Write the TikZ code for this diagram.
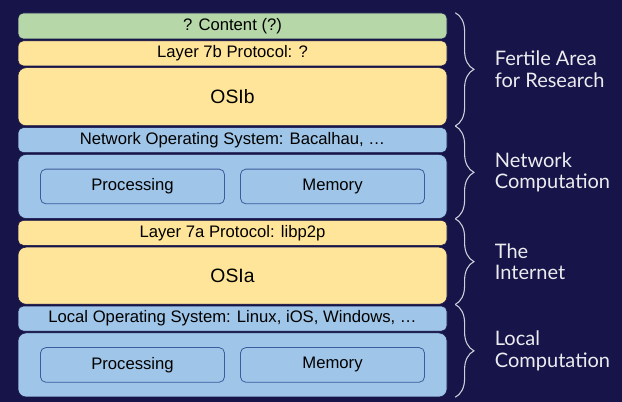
\documentclass[tikz,border=0pt]{standalone}
\usepackage{fontspec}
\setmainfont{Liberation Sans}
\newfontfamily\labelfont{Lato}
\usetikzlibrary{positioning}
\usetikzlibrary{decorations.pathreplacing}
\definecolor{slidebg}{RGB}{22,20,72}
\definecolor{layergreen}{HTML}{B6D7A8}
\definecolor{layeryellow}{HTML}{FFE599}
\definecolor{layerblue}{HTML}{9FC5E8}
\definecolor{unitedge}{HTML}{3D5C9E}
\definecolor{bracegray}{HTML}{D0D0DC}
\tikzset{
        layer/.style={align=center, inner sep=0pt, draw=slidebg, line width=0.4pt, rounded corners=4pt, minimum width=321.75pt, font=\fontsize{12.5}{14}\selectfont},
        % Thin layers
        layer_green/.style={layer, fill=layergreen, minimum height=19.5pt},
        layer_yellow/.style={layer, fill=layeryellow, minimum height=18.75pt},
        layer_blue/.style={layer, fill=layerblue, minimum height=18.75pt},
        % Thick layers
        layer_osi/.style={layer, fill=layeryellow, minimum height=43.5pt, rounded corners=6pt, font=\fontsize{14.5}{17}\selectfont},
        layer_comp/.style={layer, fill=layerblue, minimum height=48pt, rounded corners=6pt},
        % Units inside the computation layers
        unit/.style={draw=unitedge, fill=layerblue, line width=0.6pt, rounded corners=4pt, minimum width=138pt, minimum height=26pt, inner sep=0pt, font=\fontsize{12.5}{14}\selectfont},
        % Braces on the right
        span_brace/.style={draw=bracegray, line width=0.8pt, decorate, decoration={brace, amplitude=14pt}},
        span_label/.style={anchor=west, align=left, text=white!92!slidebg, font=\labelfont\fontsize{15}{16}\selectfont}
}

\begin{document}
\begin{tikzpicture}[
            x=0.75pt, y=-0.75pt,
            node distance=1pt
        ]
            \fill[slidebg] (0,0) rectangle (622,402);
            \useasboundingbox (0,0) rectangle (622,402);

            \node[layer_green] (content) at (232.5,26) {? Content (?)};
            \node[layer_yellow, below=of content] (layerb) {Layer 7b Protocol: ?};
            \node[layer_osi, below=of layerb] (osib) {OSIb};
            \node[layer_blue, below=of osib] (netos) {Network Operating System: Bacalhau, …};
            \node[layer_comp, below=of netos] (netcomp) {};
            \node[layer_yellow, below=of netcomp] (layera) {Layer 7a Protocol: libp2p};
            \node[layer_osi, below=of layera, minimum height=42.75pt] (osia) {OSIa};
            \node[layer_blue, below=of osia] (localos) {Local Operating System: Linux, iOS, Windows, …};
            \node[layer_comp, below=of localos] (localcomp) {};

            \node[unit, xshift=-75pt] (netproc) at (netcomp) {Processing};
            \node[unit, xshift=75pt] (netmem) at (netcomp) {Memory};
            \node[unit, xshift=-75pt] (localproc) at (localcomp) {Processing};
            \node[unit, xshift=75pt] (localmem) at (localcomp) {Memory};

            \draw[span_brace] ([xshift=6pt]content.north east) -- ([xshift=6pt]osib.south east)
                node[span_label, midway, xshift=26pt] (fertile) {Fertile Area\\for Research};
            \draw[span_brace] ([xshift=6pt]osib.south east) -- ([xshift=6pt]netcomp.south east)
                node[span_label, midway, xshift=26pt] (network) {Network\\Computation};
            \draw[span_brace] ([xshift=6pt]netcomp.south east) -- ([xshift=6pt]osia.south east)
                node[span_label, midway, xshift=26pt] (internet) {The\\Internet};
            \draw[span_brace] ([xshift=6pt]osia.south east) -- ([xshift=6pt]localcomp.south east)
                node[span_label, midway, xshift=26pt] (local) {Local\\Computation};
        \end{tikzpicture}
\end{document}
